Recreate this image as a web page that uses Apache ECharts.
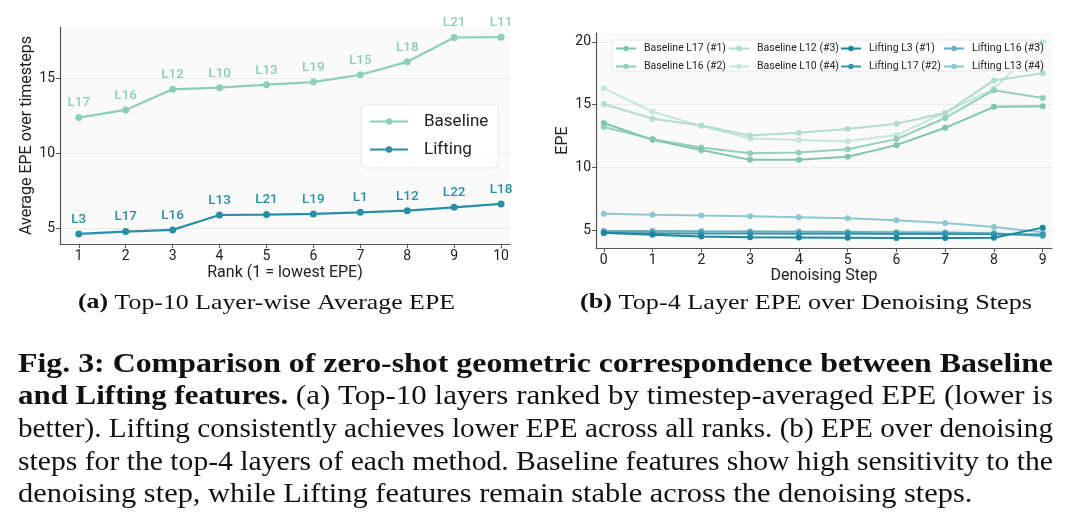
<!DOCTYPE html>
<html>
<head>
<meta charset="utf-8">
<script src="https://cdn.jsdelivr.net/npm/echarts@6/dist/echarts.min.js"></script>
<style>
  html, body { margin: 0; padding: 0; background: #fff; }
  #chart { width: 1071px; height: 524px; }
</style>
</head>
<body>
<div id="chart"></div>
<script>
// (a) top-10 layer-wise average EPE
const ranks = [1, 2, 3, 4, 5, 6, 7, 8, 9, 10];
const baselineAvg = [12.37, 12.88, 14.25, 14.36, 14.56, 14.73, 15.22, 16.08, 17.70, 17.72];
const liftingAvg = [4.62, 4.78, 4.89, 5.88, 5.91, 5.95, 6.06, 6.17, 6.39, 6.62];
const baselineLayers = ["L17", "L16", "L12", "L10", "L13", "L19", "L15", "L18", "L21", "L11"];
const liftingLayers = ["L3", "L17", "L16", "L13", "L21", "L19", "L1", "L12", "L22", "L18"];

// (b) top-4 layers over denoising steps
const steps = [0, 1, 2, 3, 4, 5, 6, 7, 8, 9];
const baseL17 = [13.54, 12.20, 11.40, 10.61, 10.61, 10.85, 11.78, 13.16, 14.83, 14.88];
const baseL16 = [13.22, 12.26, 11.60, 11.14, 11.20, 11.46, 12.26, 13.94, 16.15, 15.53];
const baseL12 = [15.05, 13.88, 13.35, 12.55, 12.77, 13.06, 13.48, 14.33, 16.93, 17.50];
const baseL10 = [16.30, 14.44, 13.30, 12.31, 12.18, 12.10, 12.58, 14.36, 16.28, 19.97];
const liftL3 = [4.82, 4.66, 4.52, 4.46, 4.44, 4.42, 4.40, 4.40, 4.42, 5.22];
const liftL17 = [4.80, 4.78, 4.76, 4.75, 4.74, 4.73, 4.72, 4.71, 4.70, 4.68];
const liftL16 = [4.95, 4.95, 4.93, 4.92, 4.90, 4.88, 4.86, 4.83, 4.78, 4.55];
const liftL13 = [6.33, 6.25, 6.18, 6.12, 6.05, 5.96, 5.80, 5.59, 5.27, 4.85];

const yTicksA = [5, 10, 15];
const yTicksB = [5, 10, 15, 20];

const captionLines = [
  [["b", "Fig. 3: Comparison of zero-shot geometric correspondence between Baseline"]],
  [["b", "and Lifting features."], ["n", " (a) Top-10 layers ranked by timestep-averaged EPE (lower is"]],
  [["n", "better). Lifting consistently achieves lower EPE across all ranks. (b) EPE over denoising"]],
  [["n", "steps for the top-4 layers of each method. Baseline features show high sensitivity to the"]],
  [["n", "denoising step, while Lifting features remain stable across the denoising steps."]]
];

const sans = "Roboto";
const serif = "Liberation Serif";
const axisColor = "#555";
const textColor = "#222";

const chart = echarts.init(document.getElementById("chart"), null, { renderer: "canvas" });

function pairs(xs, ys) {
  return xs.map((x, i) => [x, ys[i]]);
}

function valueX(gridIndex, min, max, ticks, name, nameGap) {
  return {
    type: "value", gridIndex: gridIndex, min: min, max: max,
    name: name, nameLocation: "middle", nameGap: nameGap,
    nameTextStyle: { fontFamily: sans, fontSize: 16, color: textColor },
    axisLine: { show: true, onZero: false, lineStyle: { color: axisColor, width: 1.2 } },
    axisTick: { show: true, length: 4, customValues: ticks, lineStyle: { color: axisColor } },
    axisLabel: { customValues: ticks, margin: 5, fontFamily: sans, fontSize: 14, color: textColor },
    splitLine: { show: false }
  };
}

function valueY(gridIndex, min, max, ticks, name, nameGap) {
  return {
    type: "value", gridIndex: gridIndex, min: min, max: max,
    name: name, nameLocation: "middle", nameGap: nameGap,
    nameTextStyle: { fontFamily: sans, fontSize: 16, color: textColor },
    axisLine: { show: true, onZero: false, lineStyle: { color: axisColor, width: 1.2 } },
    axisTick: { show: true, length: 4, customValues: ticks, lineStyle: { color: axisColor } },
    axisLabel: { customValues: ticks, margin: 5, fontFamily: sans, fontSize: 14, color: textColor },
    splitLine: { show: true, lineStyle: { color: "#ececec", width: 1 } }
  };
}

function avgSeries(name, values, layers, color) {
  return {
    name: name, type: "line", xAxisIndex: 0, yAxisIndex: 0,
    data: pairs(ranks, values),
    symbol: "circle", symbolSize: 7,
    lineStyle: { color: color, width: 2.2 },
    itemStyle: { color: color },
    label: {
      show: true, position: "top", distance: 4,
      formatter: p => layers[p.dataIndex],
      fontFamily: sans, fontSize: 13.5, fontWeight: 500, color: color
    },
    emphasis: { disabled: true },
    animation: false
  };
}

function stepSeries(name, values, color, z) {
  return {
    name: name, type: "line", xAxisIndex: 1, yAxisIndex: 1,
    data: pairs(steps, values),
    symbol: "circle", symbolSize: 6, z: z,
    lineStyle: { color: color, width: 2 },
    itemStyle: { color: color },
    emphasis: { disabled: true },
    animation: false
  };
}

const colA = { base: "#8dcfb6", lift: "#2a8fa6" };
const colB = {
  b17: "#7fc6ab", b16: "#94cfb9", b12: "#b2ddca", b10: "#c5e7d9",
  l3: "#1b869c", l17: "#3597ad", l16: "#64afc1", l13: "#8fc6d3"
};

const legendText = { fontFamily: sans, fontSize: 10.5, color: textColor, padding: [0, 0, 0, 3] };
function colLegend(left, names) {
  return {
    data: names, orient: "vertical", left: left, top: 43,
    itemWidth: 20, itemHeight: 7, itemGap: 7, padding: 0,
    textStyle: legendText, selectedMode: false, z: 20
  };
}

// caption text, justified by horizontal scale
const ctx = document.createElement("canvas").getContext("2d");
function partsWidth(parts, size) {
  let w = 0;
  parts.forEach(p => {
    ctx.font = (p[0] === "b" ? "bold " : "") + size + "px '" + serif + "'";
    w += ctx.measureText(p[1]).width;
  });
  return w;
}
const capSize = 28;
const capLeft = 18, capRight = 1053;
const capY = [365, 397, 430, 463, 495];
const scales = captionLines.map(l => (capRight - capLeft) / partsWidth(l, capSize));
const avgScale = scales.slice(0, 4).reduce((a, b) => a + b, 0) / 4;

const graphics = captionLines.map((l, i) => ({
  type: "text", x: capLeft, y: capY[i], scaleX: i < 4 ? scales[i] : avgScale,
  style: {
    text: l.map(p => "{" + p[0] + "|" + p[1] + "}").join(""),
    rich: {
      b: { fontFamily: serif, fontSize: capSize, fontWeight: "bold", fill: "#111" },
      n: { fontFamily: serif, fontSize: capSize, fill: "#111" }
    },
    verticalAlign: "middle", align: "left"
  }
}));

function subCaption(x0, x1, tag, text) {
  const size = 21;
  const parts = [["b", tag], ["n", " " + text]];
  const s = (x1 - x0) / partsWidth(parts, size);
  return {
    type: "text", x: x0, y: 303, scaleX: s,
    style: {
      text: "{b|" + tag + "}{n| " + text + "}",
      rich: {
        b: { fontFamily: serif, fontSize: size, fontWeight: "bold", fill: "#111" },
        n: { fontFamily: serif, fontSize: size, fill: "#111" }
      },
      align: "left", verticalAlign: "middle"
    }
  };
}
graphics.push(subCaption(78, 455, "(a)", "Top-10 Layer-wise Average EPE"));
graphics.push(subCaption(580, 1032, "(b)", "Top-4 Layer EPE over Denoising Steps"));
graphics.push({
  type: "rect", z: 15,
  shape: { x: 612, y: 40, width: 424, height: 31, r: 3 },
  style: { fill: "rgba(255,255,255,0.82)", stroke: "#e6e6e6", lineWidth: 1 }
});

chart.setOption({
  backgroundColor: "#fff",
  animation: false,
  grid: [
    { left: 60, top: 27, width: 450, height: 217, show: true, backgroundColor: "#fafafa", borderWidth: 0 },
    { left: 596, top: 33, width: 456, height: 215, show: true, backgroundColor: "#fafafa", borderWidth: 0 }
  ],
  xAxis: [
    valueX(0, 0.6, 10.19, ranks, "Rank (1 = lowest EPE)", 21),
    valueX(1, -0.16, 9.19, steps, "Denoising Step", 18)
  ],
  yAxis: [
    valueY(0, 3.95, 18.4, yTicksA, "Average EPE over timesteps", 24),
    valueY(1, 3.6, 20.7, yTicksB, "EPE", 23)
  ],
  legend: [
    {
      data: ["Baseline", "Lifting"], orient: "vertical", left: 361, top: 105,
      itemWidth: 38, itemHeight: 8, itemGap: 11, padding: [8, 10, 10, 8],
      backgroundColor: "rgba(255,255,255,0.9)", borderColor: "#e6e6e6", borderWidth: 1, borderRadius: 4,
      textStyle: { fontFamily: sans, fontSize: 17, color: textColor, padding: [0, 0, 0, 11] },
      selectedMode: false
    },
    colLegend(615, ["Baseline L17 (#1)", "Baseline L16 (#2)"]),
    colLegend(728, ["Baseline L12 (#3)", "Baseline L10 (#4)"]),
    colLegend(840, ["Lifting L3 (#1)", "Lifting L17 (#2)"]),
    colLegend(943, ["Lifting L16 (#3)", "Lifting L13 (#4)"])
  ],
  graphic: graphics,
  series: [
    avgSeries("Baseline", baselineAvg, baselineLayers, colA.base),
    avgSeries("Lifting", liftingAvg, liftingLayers, colA.lift),
    stepSeries("Baseline L10 (#4)", baseL10, colB.b10, 2),
    stepSeries("Baseline L12 (#3)", baseL12, colB.b12, 3),
    stepSeries("Baseline L16 (#2)", baseL16, colB.b16, 4),
    stepSeries("Baseline L17 (#1)", baseL17, colB.b17, 5),
    stepSeries("Lifting L13 (#4)", liftL13, colB.l13, 6),
    stepSeries("Lifting L16 (#3)", liftL16, colB.l16, 7),
    stepSeries("Lifting L17 (#2)", liftL17, colB.l17, 8),
    stepSeries("Lifting L3 (#1)", liftL3, colB.l3, 9)
  ]
});
</script>
</body>
</html>
